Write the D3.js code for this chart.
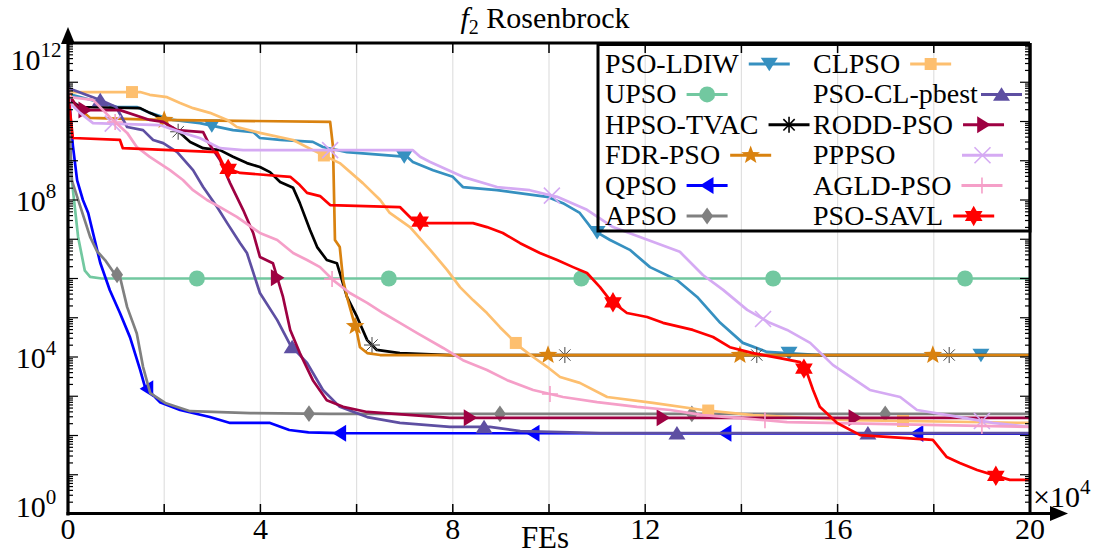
<!DOCTYPE html>
<html><head><meta charset="utf-8">
<script src="https://cdn.jsdelivr.net/npm/d3@7"></script>
<style>
body{margin:0;background:#fff}
svg{display:block}
text{font-family:"Liberation Serif","Times New Roman",serif;fill:#000}
</style>
</head><body>
<svg id="chart" width="1100" height="557"></svg>
<script>
// ---------------- DATA (x in units of 1e4 FEs, y as log10 of fitness) ----------------
const seriesNames = ["PSO-LDIW","UPSO","HPSO-TVAC","FDR-PSO","QPSO","APSO","CLPSO","PSO-CL-pbest","RODD-PSO","PPPSO","AGLD-PSO","PSO-SAVL"];

const ldiwX = [0,0.08,1.02,1.43,1.70,2.18,2.74,3.43,3.85,3.99,4.41,5.09,5.30,5.80,7.05,7.17,7.59,8.00,8.21,8.92,9.96,10.29,10.64,10.91,11.27,11.68,12.10,12.66,13.08,13.56,14.03,14.53,14.95,15.63,20];
const ldiwL = [10.93,10.68,10.37,10.37,10.22,10.04,9.96,9.78,9.73,9.58,9.53,9.48,9.35,9.22,9.10,8.97,8.76,8.59,8.33,8.25,8.08,7.92,7.67,7.24,6.98,6.73,6.29,5.96,5.53,4.87,4.36,4.13,4.10,4.05,4.05];

const upsoX = [0,0.03,0.08,0.21,0.35,0.46,0.7,20];
const upsoL = [10.9,9.8,8.5,7.06,6.2,6.04,6.0,6.0];

const hpsoX = [0,0.04,0.25,1.50,1.70,1.91,2.12,2.33,2.54,2.81,3.16,3.43,3.72,3.99,4.20,4.41,4.68,4.82,5.03,5.18,5.38,5.59,5.80,6.01,6.22,6.42,6.90,7.94,20];
const hpsoL = [10.93,10.55,10.37,10.34,10.22,10.11,9.86,9.71,9.48,9.32,9.27,9.10,8.94,8.84,8.71,8.46,8.31,7.92,7.24,6.80,6.47,6.39,5.53,5.02,4.43,4.18,4.10,4.05,4.05];

const fdrX = [0,0.15,0.46,1.91,5.45,5.51,5.55,5.65,5.72,5.80,6.01,6.07,6.22,6.49,20];
const fdrL = [10.8,10.42,10.09,10.04,9.99,9.35,6.98,6.80,5.96,5.53,4.61,4.25,4.10,4.05,4.05];

const qpsoX = [0,0.06,0.1,0.19,0.31,0.42,0.67,0.87,1.08,1.29,1.50,1.60,1.91,2.33,2.95,3.37,4.20,4.60,5.00,5.66,20];
const qpsoL = [11.0,10.0,9.4,8.5,8.0,7.67,6.4,5.7,5.12,4.5,3.67,3.24,2.85,2.65,2.47,2.32,2.32,2.14,2.08,2.06,2.05];

const apsoX = [0,0.04,0.08,0.46,0.60,0.77,0.94,1.08,1.23,1.35,1.43,1.56,1.71,2.02,2.54,3.79,5.45,20];
const apsoL = [10.9,9.6,8.5,7.06,6.7,6.47,6.17,6.04,5.27,4.87,4.6,3.75,3.08,2.83,2.62,2.57,2.55,2.55];

const clpsoX = [0,0.08,1.50,1.70,2.06,2.33,2.60,2.95,3.31,3.51,3.99,4.68,5.09,5.65,6.13,6.49,6.69,7.11,7.53,7.88,8.15,8.42,8.71,8.98,9.25,9.40,9.67,9.96,10.23,10.64,11.21,12.16,13.20,14.24,16.26,20];
const clpsoL = [10.85,10.75,10.75,10.68,10.62,10.47,10.34,10.22,10.04,9.86,9.71,9.53,9.27,8.94,8.43,8.00,7.67,7.31,6.73,6.22,5.78,5.45,5.12,4.76,4.43,4.25,4.00,3.75,3.49,3.34,2.98,2.83,2.65,2.52,2.39,2.32];

const clpbX = [0,0.67,1.0,1.23,1.56,1.77,1.98,2.27,2.60,2.81,3.10,3.31,3.58,3.72,3.99,4.35,4.62,4.97,5.30,5.65,6.22,6.90,7.94,8.77,9.40,11.06,20];
const clpbL = [10.85,10.55,10.37,9.86,9.78,9.53,9.45,9.22,8.76,8.33,7.82,7.41,6.90,6.65,5.63,4.94,4.31,3.85,3.16,2.73,2.47,2.32,2.22,2.22,2.11,2.06,2.06];

const roddX = [0,0.04,0.25,1.08,1.70,1.98,2.27,2.81,2.91,3.16,3.37,3.64,3.85,3.99,4.26,4.47,4.62,4.82,5.09,5.38,5.72,6.22,7.94,20];
const roddL = [10.8,10.62,10.29,10.29,10.04,9.99,9.78,9.73,9.48,9.02,8.43,7.75,7.16,6.55,6.39,5.53,4.69,4.10,3.41,2.90,2.73,2.60,2.45,2.45];

const ppX = [0,0.04,0.25,0.52,1.91,2.39,2.74,3.16,3.64,7.17,7.32,7.53,8.21,8.92,9.60,10.17,10.79,11.33,11.89,12.72,13.20,13.62,14.12,14.59,14.95,15.43,15.90,16.67,17.30,17.65,18.54,19.23,20];
const ppL = [10.8,10.47,10.22,9.96,9.91,9.71,9.58,9.32,9.27,9.27,9.10,8.97,8.59,8.33,8.25,8.08,7.75,7.31,7.06,6.68,6.09,5.71,5.20,4.87,4.69,4.36,3.80,3.16,2.98,2.65,2.47,2.32,2.22];

const agldX = [0,0.04,0.52,0.87,1.23,1.43,1.70,2.12,2.39,2.60,2.89,3.16,3.51,3.99,4.35,4.68,4.97,5.24,5.51,5.86,6.22,6.55,6.90,7.26,7.80,8.21,8.71,9.13,9.67,10.29,11.00,11.83,12.52,13.20,13.91,14.95,20];
const agldL = [10.93,10.62,10.55,10.11,9.71,9.35,9.10,8.76,8.51,8.25,8.00,7.82,7.57,7.16,6.98,6.65,6.47,6.29,5.96,5.63,5.38,5.12,4.87,4.61,4.23,3.92,3.67,3.41,3.16,2.98,2.85,2.73,2.65,2.52,2.45,2.34,2.22];

const savlX = [0,0.04,0.10,1.08,1.14,3.10,3.26,3.58,4.62,4.82,4.97,5.24,5.45,6.90,7.17,7.46,8.42,8.71,9.04,9.40,9.81,10.17,10.50,10.79,11.06,11.27,11.62,12.04,12.37,12.99,13.41,13.76,14.24,14.80,15.22,15.38,15.49,15.63,15.99,16.47,17.98,18.27,18.54,18.90,19.38,19.58,20];
const savlL = [10.68,10.29,9.58,9.53,9.32,9.22,8.82,8.69,8.59,8.38,8.18,8.10,7.87,7.82,7.49,7.41,7.41,7.31,7.16,6.90,6.65,6.47,6.29,6.14,5.78,5.45,5.12,5.02,4.87,4.69,4.51,4.25,4.10,3.97,3.87,3.54,3.16,2.73,2.32,2.01,1.89,1.45,1.30,1.12,0.94,0.87,0.87];

// marker positions (x, 1e4 FEs)
const ldiwM = [2.99,6.99,11.0,14.99,18.98];
const upsoM = [2.68,6.67,10.67,14.66,18.65];
const hpsoM = [2.29,6.32,10.33,14.32,18.32];
const fdrM  = [2.0,5.97,9.98,13.97,17.98];
const qpsoM = [1.64,5.65,9.67,13.66,17.65];
const apsoM = [1.02,5.01,8.98,12.97,16.99];
const clpsoM= [1.33,5.32,9.31,13.31,17.36];
const clpbM = [0.67,4.66,8.65,12.66,16.63];
const roddM = [0.35,4.35,8.36,12.37,16.36];
const ppM   = [0.93,5.45,10.06,14.45,19.0];
const agldM = [0.98,5.49,10.02,14.49,19.0];
const savlM = [3.33,7.32,11.33,15.30,19.29];

const xTickVals = [0,2,4,6,8,10,12,14,16,18,20];
const xTickLabels = ["0","4","8","12","16","20"];
const yLabelExps = [0,4,8,12];

// ---------------- STYLE ----------------
const seriesColors = ["#3690c0","#72c8a0","#000000","#d9820f","#0000ff","#808080","#fdbf6f","#5e4fa2","#9e0142","#d5aaf3","#f59fc8","#ff0000"];
const seriesMarkers = ["tdown","circle","asterisk","star5","tleft","diamond","square","tup","tright","x","plus","hexagram"];

const series = [
  [ldiwX,ldiwL,ldiwM],[upsoX,upsoL,upsoM],[hpsoX,hpsoL,hpsoM],[fdrX,fdrL,fdrM],
  [qpsoX,qpsoL,qpsoM],[apsoX,apsoL,apsoM],[clpsoX,clpsoL,clpsoM],[clpbX,clpbL,clpbM],
  [roddX,roddL,roddM],[ppX,ppL,ppM],[agldX,agldL,agldM],[savlX,savlL,savlM]
].map((s,i)=>({name:seriesNames[i],color:seriesColors[i],marker:seriesMarkers[i],
  pts:s[0].map((x,j)=>({x:x,v:Math.pow(10,s[1][j])})),xs:s[0],ls:s[1],marks:s[2]}));

// ---------------- LAYOUT ----------------
const L = 68, R = 1030, T = 43, B = 514;
const svg = d3.select("#chart");
const x = d3.scaleLinear().domain([0,20]).range([L,R]);
const y = d3.scaleLog().domain([1,1e12]).range([B,T]);

// grid
svg.append("g").selectAll("line").data(xTickVals.filter(v=>v>0&&v<20)).join("line")
  .attr("x1",d=>x(d)).attr("x2",d=>x(d)).attr("y1",T).attr("y2",B)
  .attr("stroke","#e0e0e0").attr("stroke-width",1.2);

svg.append("defs").append("clipPath").attr("id","clip").append("rect")
  .attr("x",L).attr("y",T).attr("width",R-L).attr("height",B-T);

function interp(xs, ls, xv){
  for(let i=1;i<xs.length;i++){
    if(xv<=xs[i]){const t=(xv-xs[i-1])/(xs[i]-xs[i-1]);return ls[i-1]+t*(ls[i]-ls[i-1]);}
  }
  return ls[ls.length-1];
}

function markerPath(type, s){
  const h=s/2;
  switch(type){
    case "tdown": return `M${-h},${-h*0.75}L${h},${-h*0.75}L0,${h*0.85}Z`;
    case "tup": return `M${-h},${h*0.75}L${h},${h*0.75}L0,${-h*0.85}Z`;
    case "tleft": return `M${h*0.75},${-h}L${h*0.75},${h}L${-h*0.85},0Z`;
    case "tright": return `M${-h*0.75},${-h}L${-h*0.75},${h}L${h*0.85},0Z`;
    case "circle": return d3.symbol(d3.symbolCircle, Math.PI*h*h)();
    case "square": return `M${-h*0.75},${-h*0.75}h${h*1.5}v${h*1.5}h${-h*1.5}Z`;
    case "diamond": return `M0,${-h*1.05}L${h*0.75},0L0,${h*1.05}L${-h*0.75},0Z`;
    case "star5": case "hexagram": {
      const n = type==="star5"?5:6, ro = type==="star5"? h*1.15 : h*1.2, ri = type==="star5"? ro*0.42 : ro*0.58;
      let p="";
      for(let k=0;k<2*n;k++){const r=k%2?ri:ro;const a=-Math.PI/2+k*Math.PI/n;p+=(k?"L":"M")+(r*Math.cos(a)).toFixed(2)+","+(r*Math.sin(a)).toFixed(2);}
      return p+"Z";
    }
    case "asterisk": {let p="";for(let k=0;k<4;k++){const a=k*Math.PI/4;const dx=h*Math.cos(a),dy=h*Math.sin(a);p+=`M${-dx},${-dy}L${dx},${dy}`;}return p;}
    case "x": return `M${-h},${-h}L${h},${h}M${-h},${h}L${h},${-h}`;
    case "plus": return `M${-h},0L${h},0M0,${-h}L0,${h}`;
  }
}
const strokeOnly = new Set(["asterisk","x","plus"]);
const markerSize = {tdown:17,tup:17,tleft:17,tright:17,circle:16,square:16,diamond:16,star5:17,hexagram:17,asterisk:16,x:16,plus:16};

function drawMarker(g, type, color, cx, cy, legend){
  const p = g.append("path").attr("d",markerPath(type, markerSize[type])).attr("transform",`translate(${cx},${cy})`);
  if(strokeOnly.has(type)) p.attr("fill","none").attr("stroke",type==="asterisk"?(legend?"#000":"#444"):color).attr("stroke-width",type==="asterisk"?(legend?1.6:1):1.6);
  else p.attr("fill",color).attr("stroke","none");
}

const line = d3.line().x(d=>x(d.x)).y(d=>y(d.v));
const plot = svg.append("g").attr("clip-path","url(#clip)");
series.forEach(s=>{
  const g = plot.append("g");
  g.append("path").datum(s.pts).attr("d",line).attr("fill","none").attr("stroke",s.color)
    .attr("stroke-width",2.7).attr("stroke-linejoin","round");
  s.marks.forEach(m=>drawMarker(g, s.marker, s.color, x(m), y(Math.pow(10,interp(s.xs,s.ls,m)))));
});

// axes frame
const ax = svg.append("g").attr("stroke","#000");
ax.append("line").attr("x1",L).attr("x2",R).attr("y1",T).attr("y2",T).attr("stroke-width",3);
ax.append("line").attr("x1",R).attr("x2",R).attr("y1",T).attr("y2",B).attr("stroke-width",3);
ax.append("line").attr("x1",L).attr("x2",L).attr("y1",B+1.5).attr("y2",32).attr("stroke-width",3.2);
ax.append("line").attr("x1",L-1.5).attr("x2",1054).attr("y1",B-0.5).attr("y2",B-0.5).attr("stroke-width",3.2);
svg.append("path").attr("d",`M${L},27L${L-7},44L${L+7},44Z`).attr("fill","#000");
svg.append("path").attr("d",`M1068,${B-0.5}L1050,${B-8}L1050,${B+7}Z`).attr("fill","#000");

// x ticks (bottom and top, inward)
xTickVals.filter(v=>v>0&&v<20).forEach(v=>{
  ax.append("line").attr("x1",x(v)).attr("x2",x(v)).attr("y1",B).attr("y2",B-10).attr("stroke-width",1.5);
  ax.append("line").attr("x1",x(v)).attr("x2",x(v)).attr("y1",T).attr("y2",T+10).attr("stroke-width",1.5);
});
// y ticks
for(let e=0;e<12;e++){
  for(let m=1;m<10;m++){
    const yy = y(m*Math.pow(10,e));
    const len = m===1?10:5;
    if(m===1&&e===0) continue;
    ax.append("line").attr("x1",L).attr("x2",L+len).attr("y1",yy).attr("y2",yy).attr("stroke-width",1.2);
    ax.append("line").attr("x1",R).attr("x2",R-len).attr("y1",yy).attr("y2",yy).attr("stroke-width",1.2);
  }
}

// x tick labels
xTickLabels.forEach(t=>{
  svg.append("text").attr("x",x(+t)).attr("y",539).attr("text-anchor","middle").attr("font-size",30).text(t);
});
// y tick labels
yLabelExps.forEach(e=>{
  const by = Math.max(70, Math.min(517, y(Math.pow(10,e))+11));
  const t = svg.append("text").attr("x",36).attr("y",by).attr("text-anchor","middle").attr("font-size",30);
  t.append("tspan").text("10");
  t.append("tspan").attr("dy",-13).attr("font-size",21).text(String(e));
});
// axis label
svg.append("text").attr("x",545).attr("y",548).attr("text-anchor","middle").attr("font-size",31).text("FEs");
// x10^4
const mult = svg.append("text").attr("x",1033).attr("y",507).attr("font-size",30);
mult.append("tspan").text("×10");
mult.append("tspan").attr("dy",-13).attr("font-size",21).text("4");

// title
const title = svg.append("text").attr("x",545).attr("y",28).attr("text-anchor","middle").attr("font-size",30);
title.append("tspan").attr("font-style","italic").text("f");
title.append("tspan").attr("dy",6).attr("font-size",20).text("2");
title.append("tspan").attr("dy",-6).text(" Rosenbrock");

// legend
const lg = svg.append("g");
lg.append("rect").attr("x",598).attr("y",44.5).attr("width",R-598).attr("height",186.5)
  .attr("fill","none").attr("stroke","#000").attr("stroke-width",3);
const colX = [605, 813];
series.forEach((s,i)=>{
  const col = i<6?0:1, row = i%6;
  const by = 73 + row*30.4;
  const t = lg.append("text").attr("x",colX[col]).attr("y",by).attr("font-size",28).text(s.name);
  const w = t.node().getComputedTextLength();
  let sx = colX[col] + w + 10;
  if(s.name==="PPPSO") sx = 962;
  sx = Math.min(sx, 981);
  const cy = by - 9;
  lg.append("line").attr("x1",sx).attr("x2",sx+41).attr("y1",cy).attr("y2",cy)
    .attr("stroke",s.color).attr("stroke-width",3);
  drawMarker(lg, s.marker, s.color, sx+20.5, cy, true);
});
</script>
</body></html>
